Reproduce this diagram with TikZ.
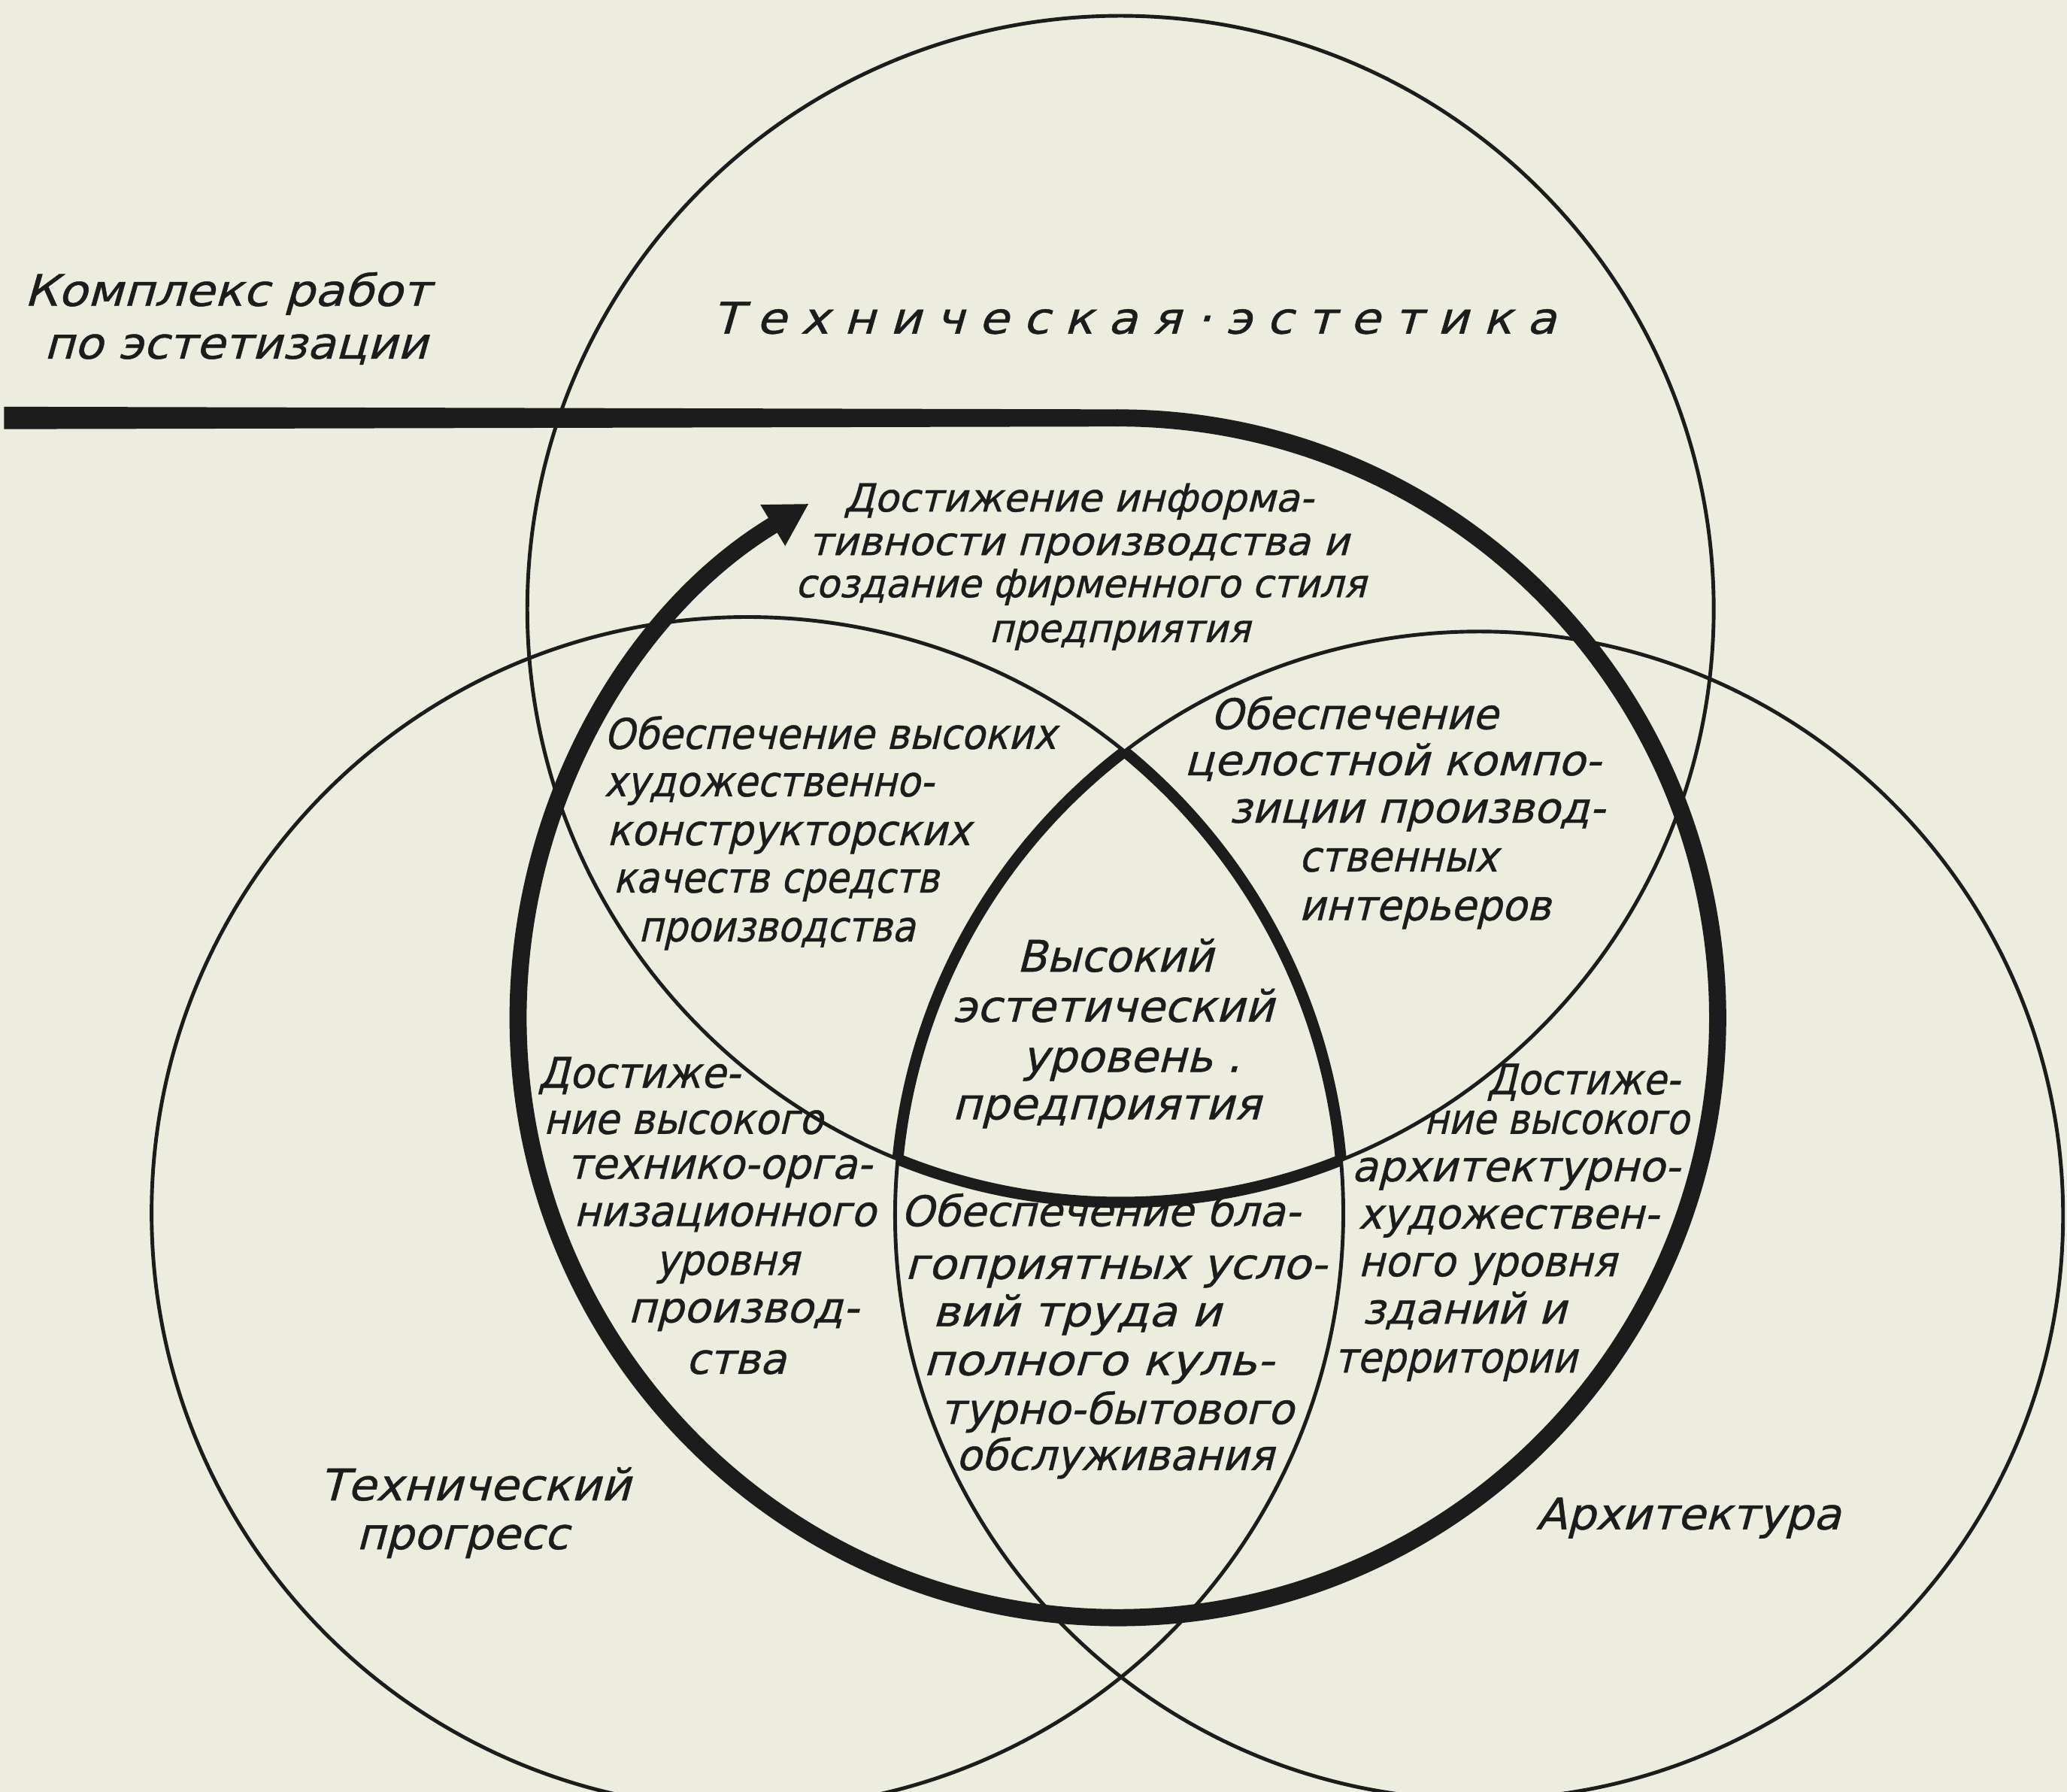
\documentclass[tikz,border=0pt]{standalone}
\usepackage{fontspec}
\newfontfamily\gost{DejaVu Sans}[FakeSlant=0.26, FakeBold=0.8]
\usetikzlibrary{arrows.meta}
\definecolor{paper}{RGB}{237,237,223}
\definecolor{ink}{RGB}{28,28,28}
\newcommand{\kk}{\kern10pt }
\newcommand{\fw}[2]{\resizebox{#1pt}{\height}{#2}}
\begin{document}
\begin{tikzpicture}[x=1pt, y=-1pt,
  circ/.style={draw=ink, line width=2.8pt},
  tri/.style={draw=ink, line width=8.5pt},
  spiral/.style={draw=ink, line width=13pt},
  lbl/.style={font=\gost\fontsize{32}{38}\selectfont, text=ink, inner sep=0pt, anchor=base west},
  lblbig/.style={lbl, font=\gost\fontsize{33}{39}\selectfont},
  lblsmall/.style={lbl, font=\gost\fontsize{29.5}{35}\selectfont}]
\fill[paper] (0,0) rectangle (1568,1359);
\useasboundingbox (0,0) rectangle (1568,1359);
% circle centres
\coordinate (T) at (850,462);
\coordinate (L) at (567,920);
\coordinate (R) at (1122,922);
\coordinate (S) at (848,772);
\coordinate (barstart) at (3,317);
\coordinate (bartop) at (848,317);
\begin{scope}
\clip (0,0) rectangle (1568,1359);
\draw[circ] (T) circle[radius=450];
\draw[circ] (L) circle[radius=452];
\draw[circ] (R) circle[radius=443];
\end{scope}
% central curvilinear triangle
\begin{scope}
\clip (L) circle[radius=452]; \clip (R) circle[radius=443];
\draw[tri] (T) circle[radius=450];
\end{scope}
\begin{scope}
\clip (T) circle[radius=450]; \clip (R) circle[radius=443];
\draw[tri] (L) circle[radius=452];
\end{scope}
\begin{scope}
\clip (T) circle[radius=450]; \clip (L) circle[radius=452];
\draw[tri] (R) circle[radius=443];
\end{scope}
% spiral arrow: tapered lead-in bar, then the loop
\fill[ink] ([yshift=-8.5pt]barstart) -- ([yshift=-6.5pt]bartop) -- ([yshift=6.5pt]bartop) -- ([yshift=8.5pt]barstart) -- cycle;
\draw[spiral, -{Triangle[length=32pt,width=34pt]}] ([xshift=-1pt]bartop) -- (bartop) arc[start angle=-90, end angle=239, radius=455];
% texts
\node[lblbig] (a1) at (18,232) {\fw{308}{Комплекс работ}};
\node[lblbig] (a2) at (33,272) {\fw{291}{по эстетизации}};
\node[lblbig] (b1) at (540,253) {\fw{640}{Т\kk е\kk х\kk н\kk и\kk ч\kk е\kk с\kk к\kk а\kk я\kk ·\kk э\kk с\kk т\kk е\kk т\kk и\kk к\kk а}};
\node[lblsmall] (c1) at (640,388) {\fw{356}{Достижение информа-}};
\node[lblsmall] (c2) at (613,421) {\fw{410}{тивности производства и}};
\node[lblsmall] (c3) at (603,453) {\fw{433}{создание фирменного стиля}};
\node[lblsmall] (c4) at (750,487) {\fw{198}{предприятия}};
\node[lbl] (d1) at (458,568) {\fw{343}{Обеспечение высоких}};
\node[lbl] (d2) at (458,604) {\fw{250}{художественно-}};
\node[lbl] (d3) at (460,641) {\fw{276}{конструкторских}};
\node[lbl] (d4) at (465,677) {\fw{247}{качеств средств}};
\node[lbl] (d5) at (484,714) {\fw{210}{производства}};
\node[lbl] (e1) at (918,553) {\fw{218}{Обеспечение}};
\node[lbl] (e2) at (898,588) {\fw{316}{целостной компо-}};
\node[lbl] (e3) at (932,624) {\fw{285}{зиции производ-}};
\node[lbl] (e4) at (985,661) {\fw{151}{ственных}};
\node[lbl] (e5) at (985,698) {\fw{191}{интерьеров}};
\node[lblbig] (f1) at (771,737) {\fw{149}{Высокий}};
\node[lblbig] (f2) at (722,775) {\fw{244}{эстетический}};
\node[lblbig] (f3) at (775,813) {\fw{166}{уровень .}};
\node[lblbig] (f4) at (722,849) {\fw{234}{предприятия}};
\node[lbl] (g1) at (408,825) {\fw{153}{Достиже-}};
\node[lbl] (g2) at (412,860) {\fw{212}{ние высокого}};
\node[lbl] (g3) at (430,894) {\fw{231}{технико-орга-}};
\node[lbl] (g4) at (435,930) {\fw{229}{низационного}};
\node[lbl] (g5) at (497,967) {\fw{109}{уровня}};
\node[lbl] (g6) at (476,1003) {\fw{175}{производ-}};
\node[lbl] (g7) at (520,1042) {\fw{76}{ства}};
\node[lbl] (h1) at (683,930) {\fw{303}{Обеспечение бла-}};
\node[lbl] (h2) at (686,970) {\fw{320}{гоприятных усло-}};
\node[lbl] (h3) at (707,1006) {\fw{219}{вий труда и}};
\node[lbl] (h4) at (700,1043) {\fw{266}{полного куль-}};
\node[lbl] (h5) at (713,1080) {\fw{268}{турно-бытового}};
\node[lbl] (h6) at (725,1115) {\fw{241}{обслуживания}};
\node[lbl] (i1) at (1128,830) {\fw{146}{Достиже-}};
\node[lbl] (i2) at (1080,860) {\fw{201}{ние высокого}};
\node[lbl] (i3) at (1025,896) {\fw{249}{архитектурно-}};
\node[lbl] (i4) at (1030,932) {\fw{228}{художествен-}};
\node[lbl] (i5) at (1030,968) {\fw{196}{ного уровня}};
\node[lbl] (i6) at (1033,1004) {\fw{155}{зданий и}};
\node[lbl] (i7) at (1012,1041) {\fw{184}{территории}};
\node[lblbig] (j1) at (242,1138) {\fw{236}{Технический}};
\node[lblbig] (j2) at (270,1175) {\fw{161}{прогресс}};
\node[lblbig] (k1) at (1165,1160) {\fw{231}{Архитектура}};
\end{tikzpicture}
\end{document}
